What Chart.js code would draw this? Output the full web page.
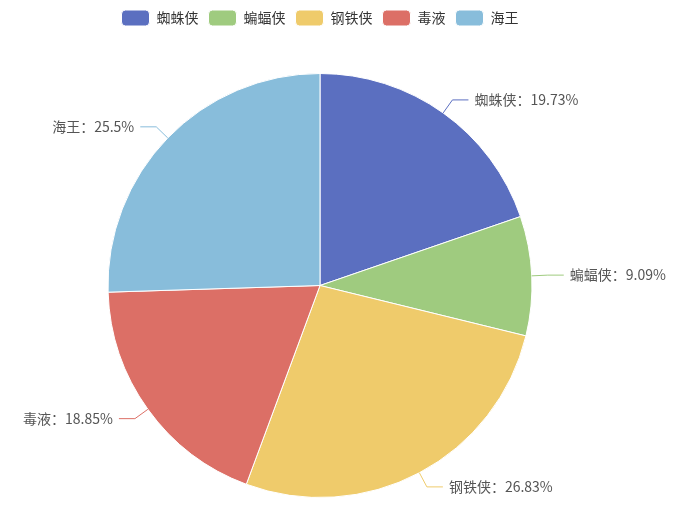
<!DOCTYPE html>
<html>
<head>
<meta charset="utf-8">
<script src="https://cdn.jsdelivr.net/npm/chart.js@4"></script>
<style>
  body { margin: 0; background: #fff; }
</style>
</head>
<body>
<canvas id="pie" width="687" height="525"></canvas>
<script>
const heroes = ["蜘蛛侠", "蝙蝠侠", "钢铁侠", "毒液", "海王"];
const shares = [19.73, 9.09, 26.83, 18.85, 25.5];
const colours = ["#5b6fc0", "#9fcb7f", "#efcb6b", "#dc6f66", "#88bddb"];

const FONT = '"Noto Sans CJK SC", "Microsoft YaHei", sans-serif';

// push the pie down below the legend, like the original layout
const legendGap = {
    id: "legendGap",
    beforeInit(chart) {
        const fit = chart.legend.fit;
        chart.legend.fit = function () {
            fit.bind(chart.legend)();
            this.height += 37;
        };
    }
};

// outside labels with bent leader lines
const outsideLabels = {
    id: "outsideLabels",
    afterDatasetsDraw(chart) {
        const ctx = chart.ctx;
        const meta = chart.getDatasetMeta(0);
        ctx.save();
        ctx.font = "14px " + FONT;
        ctx.textBaseline = "middle";
        meta.data.forEach((arc, i) => {
            const mid = (arc.startAngle + arc.endAngle) / 2;
            const r = arc.outerRadius;
            const cos = Math.cos(mid), sin = Math.sin(mid);
            const x1 = arc.x + cos * r, y1 = arc.y + sin * r;
            const x2 = arc.x + cos * (r + 16), y2 = arc.y + sin * (r + 16);
            const right = cos >= 0;
            const x3 = x2 + (right ? 16 : -16);
            ctx.strokeStyle = colours[i];
            ctx.lineWidth = 1;
            ctx.beginPath();
            ctx.moveTo(x1, y1);
            ctx.lineTo(x2, y2);
            ctx.lineTo(x3, y2);
            ctx.stroke();
            ctx.fillStyle = "#555";
            ctx.textAlign = right ? "left" : "right";
            ctx.fillText(heroes[i] + "：" + shares[i] + "%", x3 + (right ? 6 : -6), y2);
        });
        ctx.restore();
    }
};

new Chart(document.getElementById("pie"), {
    type: "pie",
    data: {
        labels: heroes,
        datasets: [{
            data: shares,
            backgroundColor: colours,
            borderColor: "#fff",
            borderWidth: 1
        }]
    },
    options: {
        responsive: false,
        animation: false,
        layout: { padding: { top: 0, bottom: 27, left: 0, right: 47 } },
        plugins: {
            tooltip: { enabled: false },
            legend: {
                position: "top",
                labels: {
                    boxWidth: 28,
                    boxHeight: 16,
                    useBorderRadius: true,
                    borderRadius: 4,
                    padding: 10,
                    color: "#333",
                    font: { size: 14, family: FONT }
                }
            }
        }
    },
    plugins: [legendGap, outsideLabels]
});
</script>
</body>
</html>
